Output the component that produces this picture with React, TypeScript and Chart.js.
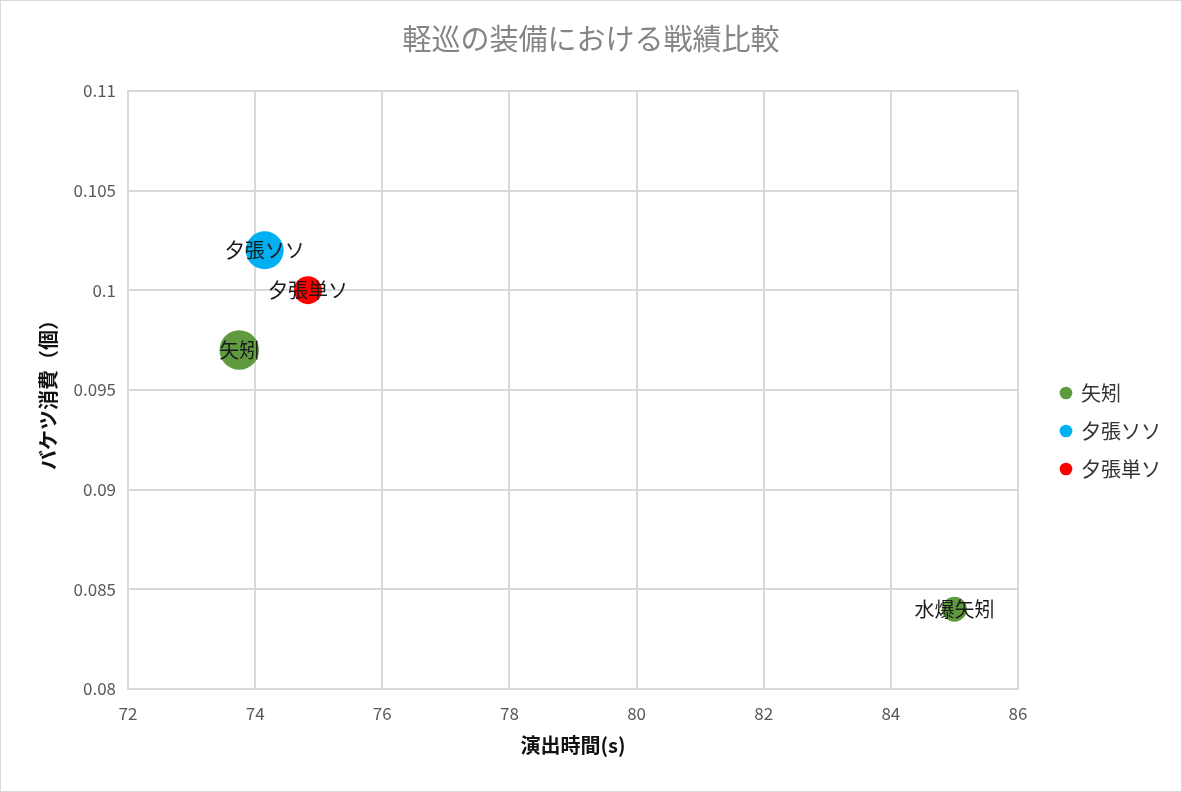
import React, { useEffect, useRef } from 'react';
import { Chart, registerables, Plugin } from 'chart.js';

Chart.register(...registerables);

const FONT = '"Noto Sans CJK JP", "Noto Sans", sans-serif';

const chartTitle = '軽巡の装備における戦績比較';
const xTitle = '演出時間(s)';
const yTitle = 'バケツ消費（個）';

const seriesNames = ['矢矧', '夕張ソソ', '夕張単ソ'];
const seriesColors = ['#5f9a3e', '#00b0f0', '#ff0000'];

// 矢矧
const yahagiTime = [73.75, 85.0];
const yahagiBucket = [0.097, 0.084];
const yahagiSize = [390, 156];
const yahagiLabels = ['矢矧', '水爆矢矧'];

// 夕張ソソ
const yubariSSTime = [74.15];
const yubariSSBucket = [0.102];
const yubariSSSize = [361];
const yubariSSLabels = ['夕張ソソ'];

// 夕張単ソ
const yubariTSTime = [74.83];
const yubariTSBucket = [0.1];
const yubariTSSize = [196];
const yubariTSLabels = ['夕張単ソ'];

const xMin = 72;
const xMax = 86;
const xStep = 2;
const yMin = 0.08;
const yMax = 0.11;
const yStep = 0.005;

const toPoints = (xs: number[], ys: number[], sizes: number[]) =>
  xs.map((x, i) => ({ x, y: ys[i], r: Math.sqrt(sizes[i]) }));

const pointLabels = [yahagiLabels, yubariSSLabels, yubariTSLabels];

const bubbleLabelPlugin: Plugin = {
  id: 'bubbleLabels',
  afterDatasetsDraw(chart) {
    const { ctx } = chart;
    ctx.save();
    ctx.font = `20px ${FONT}`;
    ctx.fillStyle = '#1a1a1a';
    ctx.textAlign = 'center';
    ctx.textBaseline = 'middle';
    chart.data.datasets.forEach((_, di) => {
      const meta = chart.getDatasetMeta(di);
      meta.data.forEach((el, i) => {
        const text = pointLabels[di]?.[i];
        if (text) ctx.fillText(text, el.x, el.y);
      });
    });
    ctx.restore();
  },
};

// nudge the legend block away from the plot, like Excel places it
const legendShiftPlugin: Plugin = {
  id: 'legendShift',
  afterLayout(chart) {
    const lg: any = (chart as any).legend;
    if (!lg) return;
    lg.left += 25;
    lg.right += 25;
    lg.top += 50;
    lg.bottom += 50;
  },
};

export default function App() {
  const canvasRef = useRef<HTMLCanvasElement>(null);

  useEffect(() => {
    document.body.style.margin = '0';
    if (!canvasRef.current) return;

    const chart = new Chart(canvasRef.current, {
      type: 'bubble',
      data: {
        datasets: [
          {
            label: seriesNames[0],
            data: toPoints(yahagiTime, yahagiBucket, yahagiSize),
            backgroundColor: seriesColors[0],
            borderWidth: 0,
          },
          {
            label: seriesNames[1],
            data: toPoints(yubariSSTime, yubariSSBucket, yubariSSSize),
            backgroundColor: seriesColors[1],
            borderWidth: 0,
          },
          {
            label: seriesNames[2],
            data: toPoints(yubariTSTime, yubariTSBucket, yubariTSSize),
            backgroundColor: seriesColors[2],
            borderWidth: 0,
          },
        ],
      },
      options: {
        animation: false,
        responsive: false,
        layout: { padding: { left: 35, right: 35, top: 0, bottom: 30 } },
        plugins: {
          title: {
            display: true,
            text: chartTitle,
            color: '#858585',
            font: { family: FONT, size: 29, weight: 'normal' },
            padding: { top: 21, bottom: 34 },
          },
          legend: {
            position: 'right',
            labels: {
              color: '#333333',
              usePointStyle: true,
              pointStyle: 'circle',
              boxWidth: 10,
              boxHeight: 9,
              padding: 18,
              font: { family: FONT, size: 20 },
            },
          },
          tooltip: { enabled: false },
        },
        scales: {
          x: {
            type: 'linear',
            min: xMin,
            max: xMax,
            ticks: {
              stepSize: xStep,
              color: '#595959',
              padding: 14,
              font: { family: FONT, size: 17 },
            },
            grid: { color: '#d9d9d9', lineWidth: 2, drawTicks: false },
            border: { color: '#d9d9d9', width: 2 },
            title: {
              display: true,
              text: xTitle,
              color: '#111111',
              font: { family: FONT, size: 20, weight: 'bold' },
              padding: { top: 14 },
            },
            afterFit: (scale) => {
              scale.height = 72;
            },
          },
          y: {
            type: 'linear',
            min: yMin,
            max: yMax,
            ticks: {
              stepSize: yStep,
              color: '#595959',
              padding: 12,
              font: { family: FONT, size: 17 },
              callback: (v) => String(Number(Number(v).toFixed(3))),
            },
            grid: { color: '#d9d9d9', lineWidth: 2, drawTicks: false },
            border: { color: '#d9d9d9', width: 2 },
            title: {
              display: true,
              text: yTitle,
              color: '#111111',
              font: { family: FONT, size: 20, weight: 'bold' },
              padding: { top: 0, bottom: 0 },
            },
            afterFit: (scale) => {
              scale.width = 92;
            },
          },
        },
      },
      plugins: [bubbleLabelPlugin, legendShiftPlugin],
    });

    return () => {
      chart.destroy();
    };
  }, []);

  return (
    <div
      style={{
        width: 1182,
        height: 792,
        boxSizing: 'border-box',
        border: '1px solid #d9d9d9',
        background: '#fff',
      }}
    >
      <canvas ref={canvasRef} width={1180} height={790} />
    </div>
  );
}
